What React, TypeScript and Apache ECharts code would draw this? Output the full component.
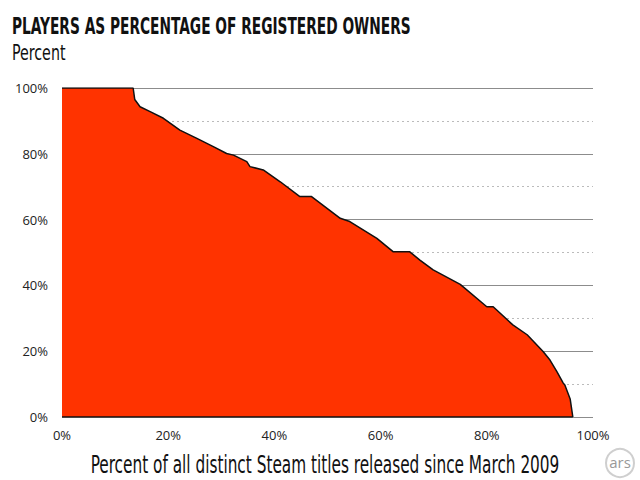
import React, { useEffect, useRef } from "react";
import * as echarts from "echarts";

const titleText = "PLAYERS AS PERCENTAGE OF REGISTERED OWNERS";
const subtitleText = "Percent";
const xAxisTitle = "Percent of all distinct Steam titles released since March 2009";

// x: percent of titles, y: players as percent of owners
const titlesPct = [
  0, 13.4, 13.7, 14.7, 16.6, 19.1, 22.2, 25.4, 28.5, 31.0, 32.3, 34.8, 35.4, 37.9,
  41.1, 44.8, 47.0, 52.4, 54.2, 59.3, 62.4, 65.5, 67.4, 69.9, 75.0, 80.0, 81.2,
  84.9, 87.6, 90.6, 91.9, 93.2, 94.4, 94.7, 95.7, 96.2,
];
const playersPct = [
  100, 100, 96.5, 94.3, 92.8, 90.8, 87.2, 84.7, 82.2, 80.1, 79.6, 77.6, 76.1, 75.1,
  71.5, 67.0, 67.0, 60.4, 59.4, 54.3, 50.2, 50.2, 47.7, 44.7, 40.3, 33.5, 33.5,
  28.0, 25.0, 19.9, 17.3, 13.8, 10.3, 9.7, 5.5, 0,
];
const xTicks = [0, 20, 40, 60, 80, 100];
const yTicks = [0, 20, 40, 60, 80, 100];

export default function App() {
  const ref = useRef<HTMLDivElement>(null);
  useEffect(() => {
    if (!ref.current) return;
    const chart = echarts.init(ref.current, undefined, { renderer: "svg" });
    const curve = titlesPct.map((x, i) => [x, playersPct[i]]);
    const base = [
      [titlesPct[0], 0],
      [titlesPct[titlesPct.length - 1], 0],
    ];
    const labelFont = "'Open Sans', 'DejaVu Sans', sans-serif";
    chart.setOption({
      animation: false,
      backgroundColor: "#ffffff",
      grid: { left: 62, right: 47, top: 88, bottom: 63 },
      xAxis: {
        type: "value",
        min: 0,
        max: 100,
        interval: 20,
        axisLine: { show: false },
        axisTick: { show: false },
        splitLine: { show: false },
        axisLabel: {
          color: "#222",
          fontSize: 13,
          fontFamily: labelFont,
          margin: 11,
          formatter: (v: number) => (xTicks.includes(v) ? v + "%" : ""),
        },
      },
      yAxis: [
        {
          type: "value",
          min: 0,
          max: 100,
          interval: 10,
          axisLine: { show: false },
          axisTick: { show: false },
          axisLabel: { show: false },
          splitLine: {
            show: true,
            lineStyle: { color: "#bbbbbb", type: [2, 3], width: 1 },
          },
        },
        {
          type: "value",
          position: "left",
          min: 0,
          max: 100,
          interval: 20,
          axisLine: { show: false },
          axisTick: { show: false },
          axisLabel: {
            color: "#222",
            fontSize: 13,
            fontFamily: labelFont,
            margin: 14,
            formatter: (v: number) => (yTicks.includes(v) ? v + "%" : ""),
          },
          splitLine: {
            show: true,
            lineStyle: { color: "#8c8c8c", width: 1.2 },
          },
        },
      ],
      series: [
        {
          type: "line",
          yAxisIndex: 1,
          data: curve,
          symbol: "none",
          smooth: false,
          lineStyle: { color: "#111", width: 1.5 },
          areaStyle: { color: "#ff3300", opacity: 1, origin: "start" },
          z: 3,
        },
        {
          type: "line",
          yAxisIndex: 1,
          data: base,
          symbol: "none",
          lineStyle: { color: "#111", width: 1.5 },
          z: 4,
        },
      ],
      graphic: [
        {
          type: "text",
          x: 12,
          y: 15,
          style: {
            text: titleText,
            fill: "#111",
            font: "bold 23px 'DejaVu Sans Condensed', 'DejaVu Sans', sans-serif",
          },
          scaleX: 0.665,
        },
        {
          type: "text",
          x: 12,
          y: 42,
          style: {
            text: subtitleText,
            fill: "#111",
            font: "22px 'DejaVu Sans Condensed', 'DejaVu Sans', sans-serif",
          },
          scaleX: 0.72,
        },
        {
          type: "text",
          x: 325,
          y: 465,
          style: {
            text: xAxisTitle,
            fill: "#111",
            font: "24px 'DejaVu Sans Condensed', 'DejaVu Sans', sans-serif",
            align: "center",
            verticalAlign: "middle",
          },
          scaleX: 0.71,
        },
        {
          type: "circle",
          shape: { cx: 620, cy: 463, r: 14 },
          style: { fill: "#fff", stroke: "#cfcfcf", lineWidth: 2 },
        },
        {
          type: "text",
          x: 620,
          y: 462,
          style: {
            text: "ars",
            fill: "#999",
            font: "15px 'Open Sans', sans-serif",
            align: "center",
            verticalAlign: "middle",
          },
        },
      ],
    });
    return () => chart.dispose();
  }, []);
  return <div ref={ref} style={{ width: 640, height: 480, position: "absolute", left: 0, top: 0 }} />;
}
